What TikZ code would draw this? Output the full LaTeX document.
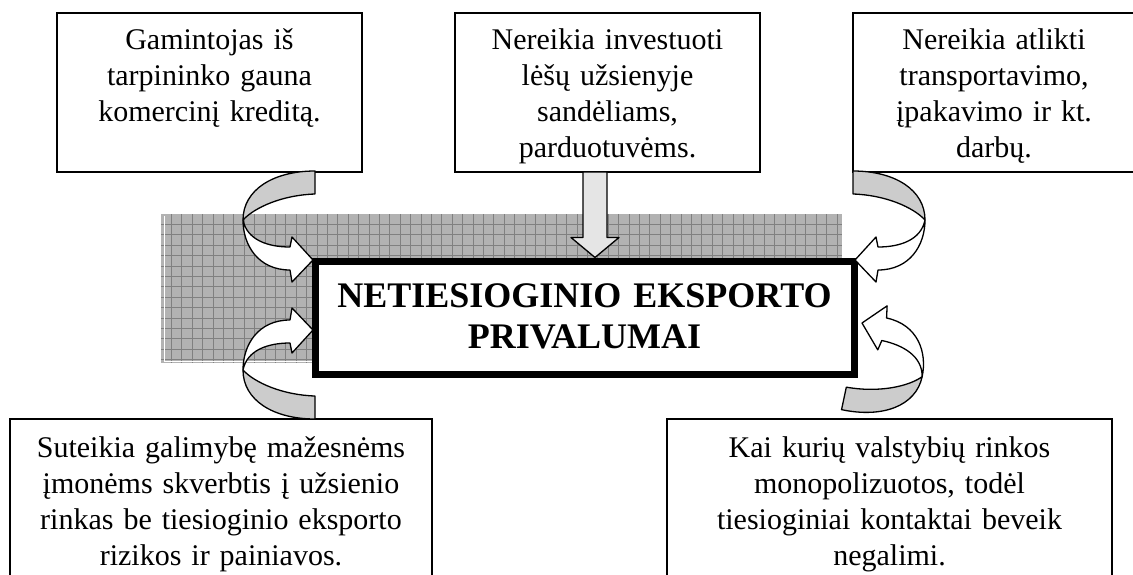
\documentclass[tikz,border=0pt]{standalone}
\usepackage{fontspec}
\setmainfont{Liberation Serif}
\usetikzlibrary{calc}
\tikzset{
  tbox/.style={draw, line width=1.3pt, inner sep=0pt, outer sep=0pt, fill=white},
  mainbox/.style={draw, line width=7pt, inner sep=0pt, outer sep=3.5pt, fill=white},
  txt/.style={font=\fontsize{30}{36}\selectfont, align=center, inner sep=0pt, anchor=base},
  ttlstyle/.style={font=\bfseries\fontsize{36}{41}\selectfont, align=center, inner sep=0pt, anchor=base, text width=520pt},
  arrline/.style={draw, line width=1.3pt, line join=round},
  gridl/.style={draw=black!50, line width=0.7pt},
  carrow/.pic={
    \draw[arrline, fill=black!20] (2,-89) .. controls (-40,-89) and (-70,-70) .. (-70,-40)
       .. controls (-58,-53) and (-30,-65) .. (2,-66) -- cycle;
    \draw[arrline, fill=white] (-70,-40) .. controls (-66,-20) and (-45,-13) .. (-23,-13)
       -- (-21,-23) -- (0,0) -- (-21,22) -- (-23,10)
       .. controls (-55,10) and (-70,-15) .. (-70,-40) -- cycle;
  }
}
\begin{document}
\begin{tikzpicture}[x=1pt, y=-1pt]
\useasboundingbox (0,0) rectangle (1133,574);
% hatched background
\fill[black!30] (161,214) rectangle (842,363);
\foreach \i in {1,...,65} \draw[gridl] (161+\i*10.4,214) -- (161+\i*10.4,363);
\foreach \j in {1,...,14} \draw[gridl] (161,214+\j*10.4) -- (842,214+\j*10.4);
\draw[white, line width=0.8pt] (164,216) -- (164,361) -- (842,361);

% boxes
\node[tbox, minimum width=305pt, minimum height=159pt] (tl) at (209.5,92.5) {};
\node[tbox, minimum width=305pt, minimum height=159pt] (tm) at (607.5,92.5) {};
\node[tbox, minimum width=282pt, minimum height=159pt] (tr) at (994,92.5) {};
\node[tbox, minimum width=422pt, minimum height=166pt] (bl) at (221,502) {};
\node[tbox, minimum width=445pt, minimum height=166pt] (br) at (889.5,502) {};

\node[txt, text width=300pt] (tlt) at ($(tl.north)+(0,36)$) {Gamintojas iš\\tarpininko gauna\\komercinį kreditą.};
\node[txt, text width=300pt] (tmt) at ($(tm.north)+(0,36)$) {Nereikia investuoti\\lėšų užsienyje\\sandėliams,\\parduotuvėms.};
\node[txt, text width=278pt] (trt) at ($(tr.north)+(0,36)$) {Nereikia atlikti\\transportavimo,\\įpakavimo ir kt.\\darbų.};
\node[txt, text width=415pt] (blt) at ($(bl.north)+(0,38)$) {Suteikia galimybę mažesnėms\\įmonėms skverbtis į užsienio\\rinkas be tiesioginio eksporto\\rizikos ir painiavos.};
\node[txt, text width=440pt] (brt) at ($(br.north)+(0,38)$) {Kai kurių valstybių rinkos\\monopolizuotos, todėl\\tiesioginiai kontaktai beveik\\negalimi.};

% central box
\node[mainbox, minimum width=539pt, minimum height=113pt] (main) at (584.5,317.5) {};
\node[ttlstyle] (ttl) at ($(main.north)+(0,49.5)$) {NETIESIOGINIO EKSPORTO\\PRIVALUMAI};

% straight arrow
\coordinate (sa) at ([xshift=-12.5pt]tm.south);
\coordinate (sb) at (main.north -| sa);
\draw[arrline, fill=black!10] ($(sa)+(-12,0)$) -- ($(sb)+(-12,-20)$) -- ($(sb)+(-24,-20)$) -- (sb)
   -- ($(sb)+(24,-20)$) -- ($(sb)+(12,-20)$) -- ($(sa)+(12,0)$) -- cycle;

% curved arrows
\coordinate (tlp) at ([shift={(1.5,2.5)}]main.north west);
\coordinate (trp) at ([shift={(-2.5,2.5)}]main.north east);
\coordinate (blp) at ([shift={(1.5,12.5)}]main.west);
\coordinate (brp) at ([shift={(4.5,5.5)}]main.east);
\pic at (tlp) {carrow};
\pic[xscale=-1] at (trp) {carrow};
\pic[yscale=-1] at (blp) {carrow};
\pic[rotate=168] at (brp) {carrow};
\end{tikzpicture}
\end{document}
